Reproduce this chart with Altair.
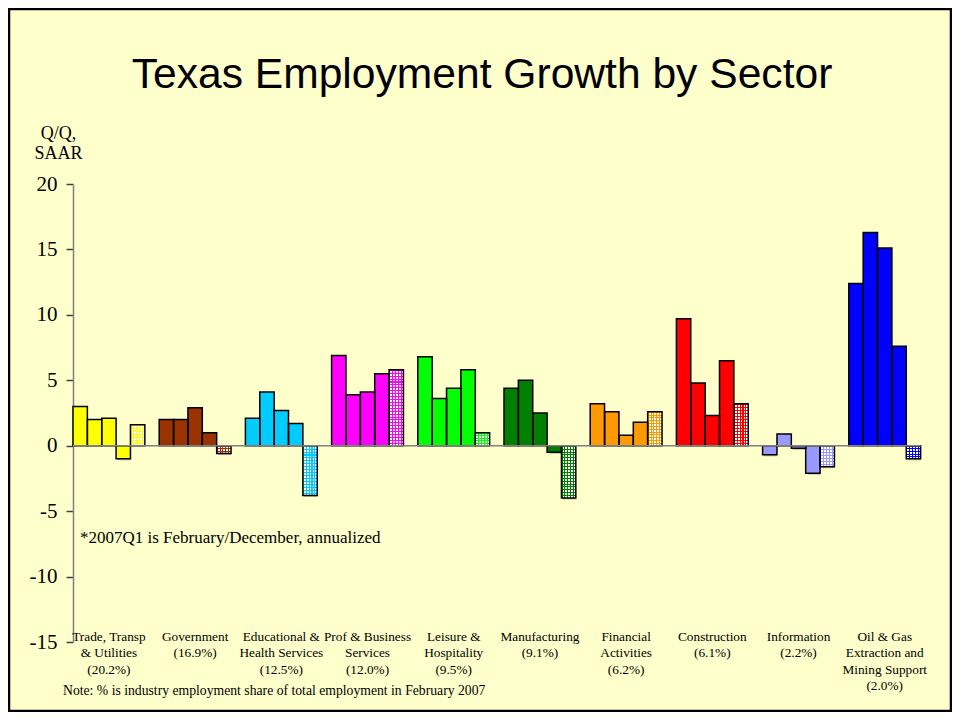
import altair as alt

# ---------------- data ----------------
sector_labels = [
    ["Trade, Transp", "& Utilities", "(20.2%)"],
    ["Government", "(16.9%)"],
    ["Educational &", "Health Services", "(12.5%)"],
    ["Prof & Business", "Services", "(12.0%)"],
    ["Leisure &", "Hospitality", "(9.5%)"],
    ["Manufacturing", "(9.1%)"],
    ["Financial", "Activities", "(6.2%)"],
    ["Construction", "(6.1%)"],
    ["Information", "(2.2%)"],
    ["Oil & Gas", "Extraction and", "Mining Support", "(2.0%)"],
]
quarters = ["2006Q1", "2006Q2", "2006Q3", "2006Q4", "2007Q1*"]

trade = [3.0, 2.0, 2.1, -1.0, 1.6]
government = [2.0, 2.0, 2.9, 1.0, -0.6]
education = [2.1, 4.1, 2.7, 1.7, -3.8]
prof_business = [6.9, 3.9, 4.1, 5.5, 5.8]
leisure = [6.8, 3.6, 4.4, 5.8, 1.0]
manufacturing = [4.4, 5.0, 2.5, -0.5, -4.0]
financial = [3.2, 2.6, 0.8, 1.8, 2.6]
construction = [9.7, 4.8, 2.3, 6.5, 3.2]
information = [-0.7, 0.9, -0.2, -2.1, -1.6]
oil_gas = [12.4, 16.3, 15.1, 7.6, -1.0]
series = [trade, government, education, prof_business, leisure,
          manufacturing, financial, construction, information, oil_gas]

colors = ["#FFFF00", "#993300", "#00CCFF", "#FF00FF", "#00FF00",
          "#008000", "#FF9900", "#FF0000", "#9999FF", "#0000FF"]

y_ticks = [-15, -10, -5, 0, 5, 10, 15, 20]

# ---------------- tables ----------------
SLOTS = 6  # 5 bars + 1 gap per sector
records = []
for g, vals in enumerate(series):
    for i, v in enumerate(vals):
        records.append({
            "sector": " ".join(sector_labels[g]),
            "quarter": quarters[i],
            "qi": i,
            "value": v,
            "slot": g * SLOTS + i,
            "slot_end": g * SLOTS + i + 1,
            "color": colors[g],
        })
label_records = [{"cx": g * SLOTS + 2.5, "lines": lines}
                 for g, lines in enumerate(sector_labels)]

bars_data = alt.Data(values=records)

W, H = 862, 458
PAD = {"left": 65, "top": 176, "right": 17, "bottom": 70}

xscale = alt.Scale(domain=[0, len(series) * SLOTS], nice=False, zero=False)
yscale = alt.Scale(domain=[-15, 20], nice=False, zero=False)
px_per_unit = H / 35.0

yaxis = alt.Axis(
    values=y_ticks, grid=False, tickSize=7, tickWidth=1.5, tickColor="#404040",
    domainColor="#808080", domainWidth=1.5, labelPadding=9,
    labelFont="Liberation Serif", labelFontSize=21, labelColor="black",
    labelExpr="'' + datum.value",
    title=["Q/Q,", "SAAR"], titleAngle=0, titleX=-15, titleY=-46,
    titleAlign="center", titleBaseline="alphabetic", titleFont="Liberation Serif",
    titleFontSize=18, titleFontWeight="normal", titleLineHeight=20,
    titleColor="black",
)

X = alt.X("slot:Q", scale=xscale, axis=None)
X2 = alt.X2("slot_end:Q")
Y = alt.Y("value:Q", scale=yscale, axis=yaxis)

base = alt.Chart(bars_data)

shadow = base.mark_bar(fill="#7a7a6a", opacity=0.45, xOffset=1.5, yOffset=1.5).encode(
    x=X, x2=X2, y=Y, y2=alt.datum(0)
)

solid = base.transform_filter(alt.datum.qi < 4).mark_bar().encode(
    x=X, x2=X2, y=Y, y2=alt.datum(0),
    fill=alt.Fill("color:N", scale=None),
)


def stripes(color, n, vertical_lines, bg):
    stops = []
    lw = 0.36
    for k in range(n):
        a = k / n
        b = (k + lw) / n
        c = (k + 1) / n
        stops += [
            alt.GradientStop(offset=a, color=color),
            alt.GradientStop(offset=b, color=color),
            alt.GradientStop(offset=b, color=bg),
            alt.GradientStop(offset=c, color=bg),
        ]
    if vertical_lines:
        return alt.LinearGradient(gradient="linear", stops=stops, x1=0, x2=1, y1=0, y2=0)
    return alt.LinearGradient(gradient="linear", stops=stops, x1=0, x2=0, y1=0, y2=1)


hatch_layers = []
for g, vals in enumerate(series):
    v = vals[4]
    s = g * SLOTS + 4
    n_h = max(1, round(abs(v) * px_per_unit / 2.9))
    sel = base.transform_filter(alt.datum.slot == s)
    hatch_layers.append(
        sel.mark_bar(fill=stripes(colors[g], 5, True, "white")).encode(
            x=X, x2=X2, y=Y, y2=alt.datum(0))
    )
    hatch_layers.append(
        sel.mark_bar(fill=stripes(colors[g], n_h, False, "rgba(255,255,255,0)")).encode(
            x=X, x2=X2, y=Y, y2=alt.datum(0))
    )

outline = base.mark_bar(fill="transparent", stroke="black", strokeWidth=1.5).encode(
    x=X, x2=X2, y=Y, y2=alt.datum(0)
)

zero_line = alt.Chart(alt.Data(values=[{"a": 0, "b": len(series) * SLOTS - 1}])).mark_rule(
    color="#808080", strokeWidth=1.5
).encode(
    x=alt.X("a:Q", scale=xscale, axis=None), x2="b:Q", y=alt.datum(0)
)

cat_labels = alt.Chart(alt.Data(values=label_records)).mark_text(
    font="Liberation Serif", fontSize=13.3, lineHeight=16.5, align="center",
    baseline="alphabetic", color="black"
).encode(
    x=alt.X("cx:Q", scale=xscale, axis=None),
    y=alt.value(456.5),
    text="lines:N",
)

title = alt.Chart(alt.Data(values=[{"t": "Texas Employment Growth by Sector"}])).mark_text(
    font="Liberation Sans", fontSize=42.6, align="center", baseline="alphabetic", color="black"
).encode(x=alt.value(409), y=alt.value(-96), text="t:N")

note1 = alt.Chart(alt.Data(values=[{"t": "*2007Q1 is February/December, annualized"}])).mark_text(
    font="Liberation Serif", fontSize=17, align="left", baseline="alphabetic", color="black"
).encode(x=alt.value(7), y=alt.value(359), text="t:N")

note2 = alt.Chart(alt.Data(values=[{"t": "Note: % is industry employment share of total employment in February 2007"}])).mark_text(
    font="Liberation Serif", fontSize=13.7, align="left", baseline="alphabetic", color="black"
).encode(x=alt.value(-10), y=alt.value(511), text="t:N")

border = alt.Chart(alt.Data(values=[{"k": 1}])).mark_rect(
    fill="transparent", stroke="black", strokeWidth=2.5
).encode(
    x=alt.value(-PAD["left"] + 1), x2=alt.value(W + PAD["right"] - 1),
    y=alt.value(-PAD["top"] + 1), y2=alt.value(H + PAD["bottom"] - 1),
)

chart = alt.layer(
    shadow, solid, *hatch_layers, outline, zero_line, cat_labels,
    title, note1, note2, border
).properties(
    width=W, height=H,
    autosize=alt.AutoSizeParams(type="none"),
    padding=PAD,
    background="#FFFFCC",
).configure_view(stroke=None)

chart.save("out.html", embed_options={"renderer": "svg", "actions": False})
